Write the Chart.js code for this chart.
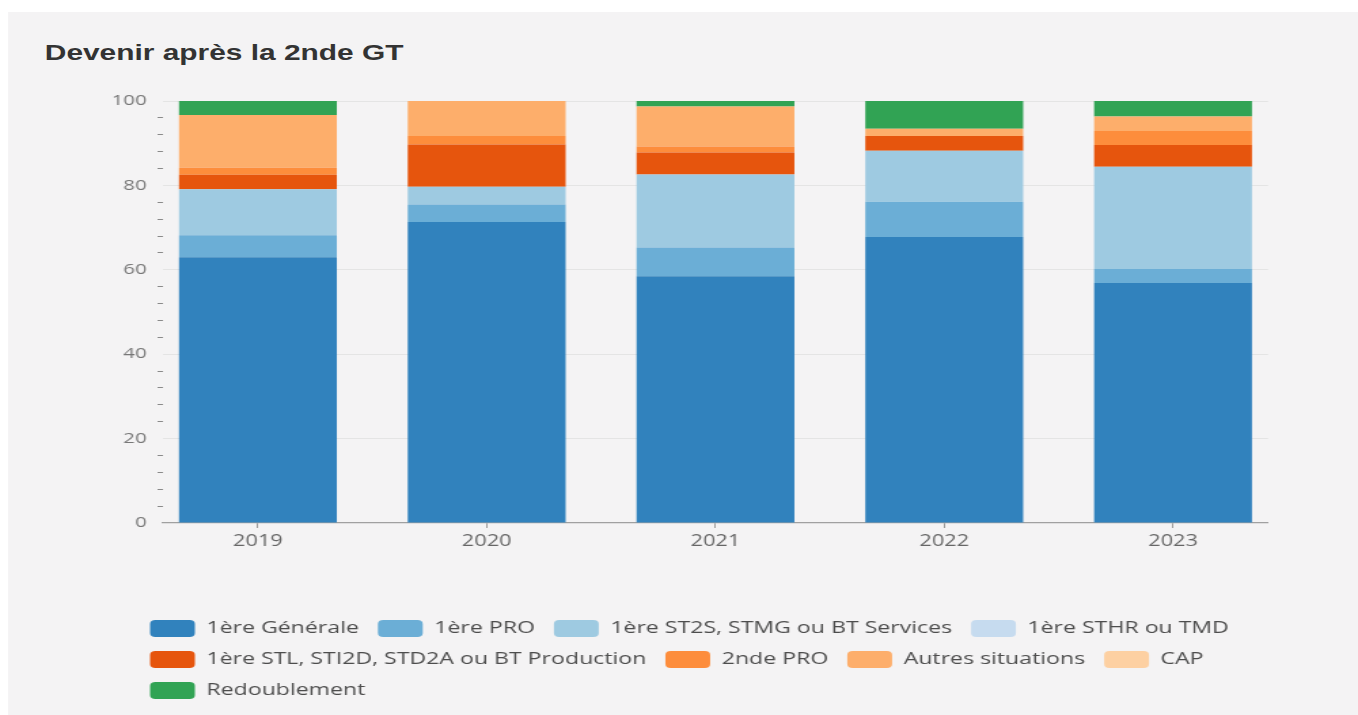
<!DOCTYPE html>
<html><head><meta charset="utf-8">
<script src="https://cdn.jsdelivr.net/npm/chart.js@4.4.1/dist/chart.umd.min.js"></script>
<style>
html,body{margin:0;padding:0;background:#fff;overflow:hidden;width:1358px;height:715px;}
#stage{position:absolute;left:0;top:0;width:1000px;height:715px;transform:scaleX(1.358);transform-origin:0 0;}
#panel{position:absolute;left:5.9px;top:12px;right:0;bottom:0;background:#f4f3f4;}
#title{position:absolute;left:33px;top:41px;font:bold 22px "Liberation Sans",Arial,sans-serif;line-height:23px;color:#333;white-space:nowrap;}
#c{position:absolute;left:0;top:0;}
</style></head>
<body>
<div id="stage">
  <div id="panel"></div>
  <div id="title">Devenir après la 2nde GT</div>
  <canvas id="c" width="1000" height="715"></canvas>
</div>
<script>
// ---- data ----
const years = [2019, 2020, 2021, 2022, 2023];
const seriesNames = [
  "1ère Générale", "1ère PRO", "1ère ST2S, STMG ou BT Services", "1ère STHR ou TMD",
  "1ère STL, STI2D, STD2A ou BT Production", "2nde PRO", "Autres situations", "CAP", "Redoublement"
];
const generale     = [63.0, 71.3, 58.5, 67.8, 56.9];
const premierePro  = [5.2, 4.2, 6.8, 8.3, 3.3];
const st2s         = [10.9, 4.2, 17.3, 12.1, 24.2];
const sthr         = [0, 0, 0, 0, 0];
const stl          = [3.4, 10.0, 5.2, 3.5, 5.2];
const secondePro   = [1.7, 2.0, 1.4, 0, 3.3];
const autres       = [12.5, 8.3, 9.5, 1.7, 3.4];
const cap          = [0, 0, 0, 0, 0];
const redoublement = [3.3, 0, 1.3, 6.6, 3.7];
const seriesValues = [generale, premierePro, st2s, sthr, stl, secondePro, autres, cap, redoublement];
const seriesColors = ["#3182bd", "#6baed6", "#9ecae1", "#c6dbef", "#e6550d", "#fd8d3c", "#fdae6b", "#fdd0a2", "#31a354"];
const yMin = 0, yMax = 100, yMinorStep = 4, yMajorStep = 20;

const datasets = seriesNames.map((name, i) => ({
  label: name,
  data: seriesValues[i],
  backgroundColor: seriesColors[i],
  borderWidth: 0,
  barPercentage: 0.69,
  categoryPercentage: 1.0
}));

// shift the legend so that it starts under the plot, as in the reference
const legendShift = {
  id: 'legendShift',
  afterLayout(chart) {
    if (chart.legend) chart.legend.left = 96.5;
  }
};

new Chart(document.getElementById('c'), {
  type: 'bar',
  data: { labels: years, datasets },
  plugins: [legendShift],
  options: {
    responsive: false,
    animation: false,
    devicePixelRatio: 1,
    layout: { padding: { left: 60, right: 66.3, top: 101, bottom: 6 } },
    plugins: {
      tooltip: { enabled: false },
      title: { display: false },
      legend: {
        position: 'bottom',
        align: 'start',
        labels: {
          boxWidth: 33, boxHeight: 17, padding: 14,
          useBorderRadius: true, borderRadius: 4,
          color: '#4d4d4d',
          font: { family: '"Open Sans"', size: 17 }
        }
      }
    },
    scales: {
      x: {
        type: 'linear',
        stacked: true,
        offset: false,
        min: years[0] - 0.415,
        max: years[years.length - 1] + 0.415,
        afterBuildTicks: s => { s.ticks = years.map(v => ({ value: v })); },
        afterFit: s => { s.height = 83; },
        grid: { offset: false, drawOnChartArea: false, drawTicks: true, tickLength: 5, color: '#9a9a9a' },
        border: { display: true, color: '#a0a0a0', width: 1.2 },
        ticks: {
          autoSkip: false, maxRotation: 0, padding: 4,
          color: '#666', font: { family: '"Open Sans"', size: 16 },
          callback: v => String(v)
        }
      },
      y: {
        stacked: true,
        min: yMin, max: yMax,
        afterFit: s => { s.width = 60; },
        border: { display: false },
        grid: {
          drawTicks: true, tickLength: 4,
          color: c => (c.tick && c.tick.value % yMajorStep === 0 && c.tick.value !== yMin) ? '#e4e4e4' : 'transparent',
          tickColor: c => (c.tick && c.tick.value % yMajorStep === 0) ? 'transparent' : '#8a8a8a'
        },
        ticks: {
          stepSize: yMinorStep, autoSkip: false, padding: 8,
          color: '#777', font: { family: '"Open Sans"', size: 15 },
          callback: v => (v % yMajorStep === 0 ? String(v) : '')
        }
      }
    }
  }
});
</script>
</body></html>
